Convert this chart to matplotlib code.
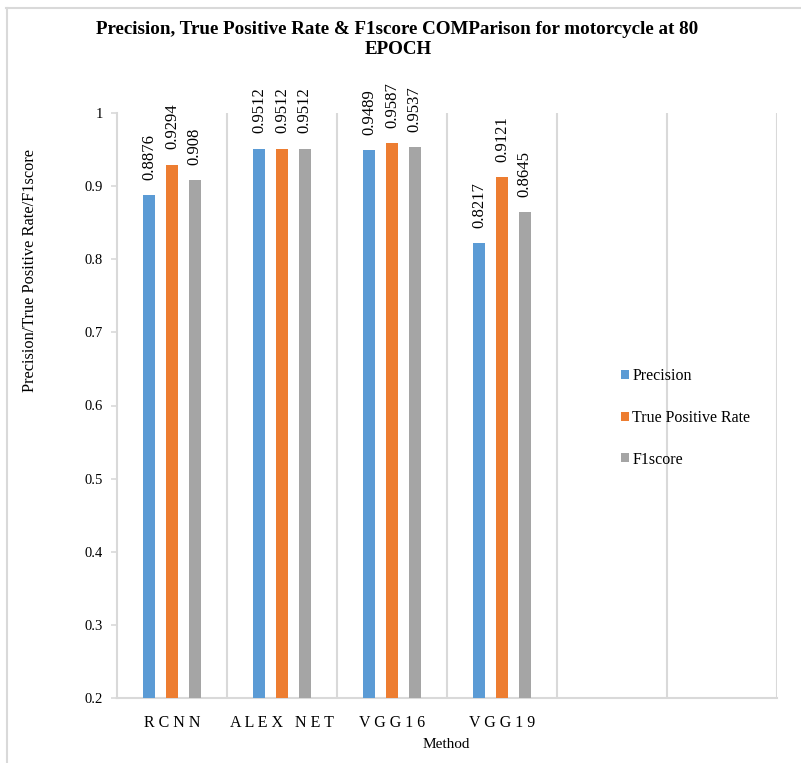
import numpy as np
import matplotlib.pyplot as plt
from matplotlib.lines import Line2D

plt.rcParams['font.family'] = ['Liberation Serif', 'DejaVu Serif']

methods = ['RCNN', 'ALEX NET', 'VGG16', 'VGG19']
precision = [0.8876, 0.9512, 0.9489, 0.8217]
tpr = [0.9294, 0.9512, 0.9587, 0.9121]
f1score = [0.908, 0.9512, 0.9537, 0.8645]
yticks = [0.2, 0.3, 0.4, 0.5, 0.6, 0.7, 0.8, 0.9, 1]

n_slots = 6  # chart keeps two empty category slots on the right
series = [('Precision', precision, '#5B9BD5'),
          ('True Positive Rate', tpr, '#ED7D31'),
          ('F1score', f1score, '#A5A5A5')]

fig = plt.figure(figsize=(8.01, 7.63), dpi=100)
ax = fig.add_axes([117/801, 1 - 698/763, 660/801, 585/763])

x = np.arange(len(methods))
w = 0.109
offs = [-0.205, 0.0, 0.205]
for (name, vals, col), o in zip(series, offs):
    ax.bar(x + o, vals, width=w, color=col, label=name, zorder=3)
    for xi, v in zip(x, vals):
        ax.annotate(f'{v:g}', (xi + o, v), xytext=(0, 11), textcoords='offset points',
                    rotation=90, ha='center', va='bottom', fontsize=12)

ax.set_xlim(-0.5, n_slots - 0.5)
ax.set_ylim(0.2, 1.0)
ax.set_yticks(yticks)
ax.set_yticklabels([f'{t:g}' for t in yticks], fontsize=10.5)
ax.set_xticks(x)
ax.set_xticklabels([' '.join(m) for m in methods], fontsize=11.5)
ax.tick_params(axis='x', length=0, pad=12)
ax.tick_params(axis='y', length=4, color='#d9d9d9', width=1.2, pad=6)

for b in np.arange(0.5, n_slots, 1.0):
    ax.axvline(b, color='#d9d9d9', lw=1.5, zorder=1)
for s in ['top', 'right']:
    ax.spines[s].set_visible(False)
for s in ['left', 'bottom']:
    ax.spines[s].set_color('#d9d9d9')
    ax.spines[s].set_linewidth(1.5)

ax.legend(loc='center left', bbox_to_anchor=(621/801, 1 - 418/763),
          bbox_transform=fig.transFigure, frameon=False, fontsize=11.5,
          handlelength=0.5, handleheight=0.5, handletextpad=0.2,
          labelspacing=1.6, borderpad=0, borderaxespad=0)

fig.text(397/801, 1 - 29/763, 'Precision, True Positive Rate & F1score COMParison for motorcycle at 80',
         ha='center', va='center', fontsize=13.7, fontweight='bold')
fig.text(398/801, 1 - 49/763, 'EPOCH', ha='center', va='center', fontsize=13.7, fontweight='bold')
fig.text(30/801, 1 - 270/763, 'Precision/True Positive Rate/F1score', rotation=90,
         ha='center', va='center', fontsize=11.8)
fig.text(446/801, 1 - 744/763, 'Method', ha='center', va='center', fontsize=11)

# outer frame: top and left edges only
fig.add_artist(Line2D([6/801, 1], [1 - 7.5/763] * 2, transform=fig.transFigure, color='#d9d9d9', lw=1.5))
fig.add_artist(Line2D([6.5/801] * 2, [0, 1 - 7.5/763], transform=fig.transFigure, color='#d9d9d9', lw=1.5))

fig.savefig('out.png', dpi=100)
